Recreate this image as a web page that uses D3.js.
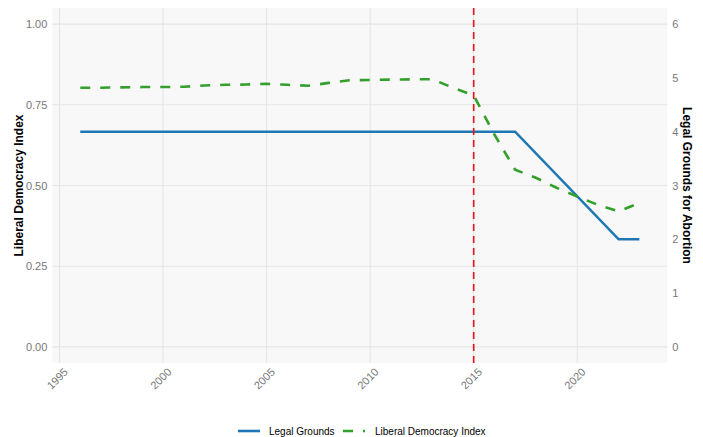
<!DOCTYPE html>
<html><head><meta charset="utf-8">
<script src="https://cdn.jsdelivr.net/npm/d3@7"></script>
<style>body{margin:0;background:#fff}svg{display:block}text{font-family:"Liberation Sans",Arial,sans-serif}</style>
</head><body><svg id="c" width="703" height="437"></svg>
<script>
const legalYears = [1996,1997,1998,1999,2000,2001,2002,2003,2004,2005,2006,2007,2008,2009,2010,2011,2012,2013,2014,2015,2016,2017,2022,2023];
const legalGrounds = [4,4,4,4,4,4,4,4,4,4,4,4,4,4,4,4,4,4,4,4,4,4,2,2];
const ldiYears = [1996,1997,1998,1999,2000,2001,2002,2003,2004,2005,2006,2007,2008,2009,2010,2011,2012,2013,2014,2015,2016,2017,2018,2019,2020,2021,2022,2023];
const ldiValues = [0.803,0.803,0.804,0.805,0.805,0.806,0.810,0.812,0.813,0.815,0.812,0.809,0.818,0.826,0.827,0.828,0.829,0.829,0.803,0.779,0.658,0.549,0.524,0.493,0.466,0.440,0.420,0.446];
const xTicks = [1995,2000,2005,2010,2015,2020];
const leftTicks = [0,0.25,0.5,0.75,1];
const rightTicks = [0,1,2,3,4,5,6];
const eventYear = 2015;
const legendLabels = ["Legal Grounds","Liberal Democracy Index"];

const svg = d3.select("#c");
const L = 52.3, R = 667.3, T = 8, B = 363;
const x = d3.scaleLinear().domain([1994.65, 2024.35]).range([L, R]);
const y = d3.scaleLinear().domain([-0.05, 1.05]).range([B, T]);
const y2 = d3.scaleLinear().domain([-0.3, 6.3]).range([B, T]);

svg.append("rect").attr("x",L).attr("y",T).attr("width",R-L).attr("height",B-T).attr("fill","#f8f8f8");
const grid = svg.append("g").attr("stroke","#e6e6e6").attr("stroke-width",1.1);
xTicks.forEach(t=>grid.append("line").attr("x1",x(t)).attr("x2",x(t)).attr("y1",T).attr("y2",B));
leftTicks.forEach(t=>grid.append("line").attr("x1",L).attr("x2",R).attr("y1",y(t)).attr("y2",y(t)));

// axes
const lax = svg.append("g").attr("transform",`translate(${L},0)`)
  .call(d3.axisLeft(y).tickValues(leftTicks).tickFormat(d3.format(".2f")).tickSize(0).tickPadding(5));
const rax = svg.append("g").attr("transform",`translate(${R},0)`)
  .call(d3.axisRight(y2).tickValues(rightTicks).tickFormat(d3.format("d")).tickSize(0).tickPadding(5));
const bax = svg.append("g").attr("transform",`translate(0,${B})`)
  .call(d3.axisBottom(x).tickValues(xTicks).tickFormat(d3.format("d")).tickSize(0));
[lax,rax,bax].forEach(a=>{a.select(".domain").remove();a.selectAll("text").attr("fill","#777").attr("font-size",11);});
bax.selectAll("text").attr("text-anchor","end").attr("dy",null).attr("y",0)
  .attr("transform","translate(3,4) rotate(-45)").attr("dominant-baseline","hanging");

// titles
svg.append("text").attr("transform",`translate(23,${(T+B)/2}) rotate(-90)`).attr("text-anchor","middle")
  .attr("font-size",12).attr("font-weight","bold").attr("fill","#000").text("Liberal Democracy Index");
svg.append("text").attr("transform",`translate(683,${(T+B)/2}) rotate(90)`).attr("text-anchor","middle")
  .attr("font-size",12).attr("font-weight","bold").attr("fill","#000").text("Legal Grounds for Abortion");

// lines
const lg = d3.line().x((d,i)=>x(legalYears[i])).y(d=>y2(d));
svg.append("path").attr("d",lg(legalGrounds)).attr("fill","none").attr("stroke","#1f78b4").attr("stroke-width",2.6);
const ll = d3.line().x((d,i)=>x(ldiYears[i])).y(d=>y(d));
svg.append("path").attr("d",ll(ldiValues)).attr("fill","none").attr("stroke","#33a02c").attr("stroke-width",2.6).attr("stroke-dasharray","10,10");
svg.append("line").attr("x1",x(eventYear)).attr("x2",x(eventYear)).attr("y1",T).attr("y2",B)
  .attr("stroke","#ee1111").attr("stroke-width",1.6).attr("stroke-dasharray","7,5");

// legend
const lgY = 431;
const leg = svg.append("g");
leg.append("line").attr("x1",238).attr("x2",260).attr("y1",lgY).attr("y2",lgY).attr("stroke","#1f78b4").attr("stroke-width",2.6);
leg.append("text").attr("x",269).attr("y",lgY).attr("dy","0.35em").attr("font-size",10).attr("fill","#000").text(legendLabels[0]);
leg.append("line").attr("x1",343).attr("x2",365).attr("y1",lgY).attr("y2",lgY).attr("stroke","#33a02c").attr("stroke-width",2.6).attr("stroke-dasharray","10,10");
leg.append("text").attr("x",375).attr("y",lgY).attr("dy","0.35em").attr("font-size",10).attr("fill","#000").text(legendLabels[1]);
</script></body></html>
